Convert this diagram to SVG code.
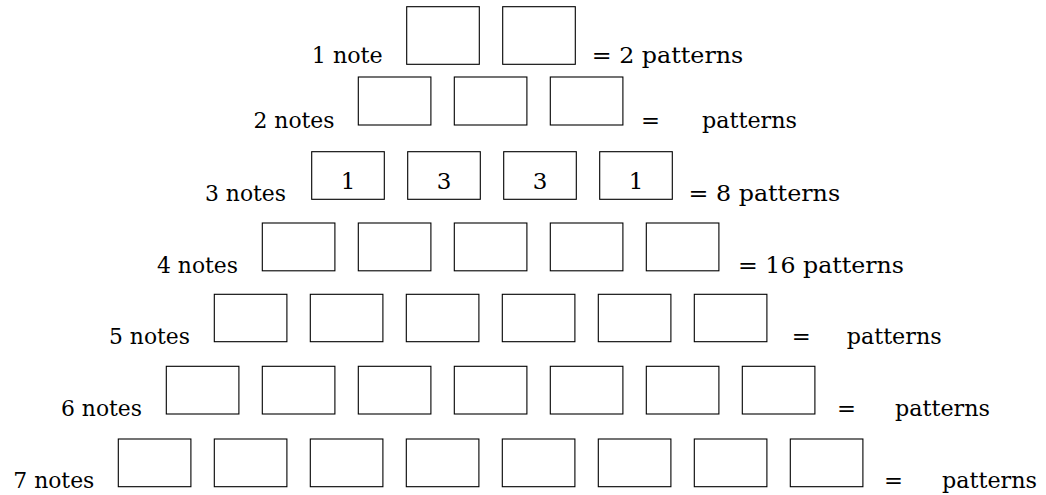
<svg xmlns="http://www.w3.org/2000/svg" width="1046" height="495" viewBox="0 0 1046 495">
<style>
  .box { fill: #ffffff; stroke: #000000; stroke-width: 1.1; }
  .t { font-family: "DejaVu Serif", serif; font-size: 23px; fill: #000000; }
  .lbl { text-anchor: end; }
  .num { text-anchor: middle; }
</style>
<rect x="0" y="0" width="1046" height="495" fill="#ffffff"/>

<g id="row1">
  <text class="t lbl" x="382.7" y="63" textLength="71" lengthAdjust="spacingAndGlyphs">1 note</text>
  <rect class="box" x="406.7" y="6.7" width="72.6" height="57.6"/>
  <rect class="box" x="502.7" y="6.7" width="72.6" height="57.6"/>
  <text class="t" x="591.7" y="63" textLength="151.6" lengthAdjust="spacingAndGlyphs">= 2 patterns</text>
</g>

<g id="row2">
  <text class="t lbl" x="334.5" y="127.5" textLength="81" lengthAdjust="spacingAndGlyphs">2 notes</text>
  <rect class="box" x="358.3" y="77" width="72.6" height="48"/>
  <rect class="box" x="454.3" y="77" width="72.6" height="48"/>
  <rect class="box" x="550.3" y="77" width="72.6" height="48"/>
  <text class="t" x="641" y="127.5" textLength="19" lengthAdjust="spacingAndGlyphs">=</text>
  <text class="t" x="702" y="127.5" textLength="95" lengthAdjust="spacingAndGlyphs">patterns</text>
</g>

<g id="row3">
  <text class="t lbl" x="286" y="200.5" textLength="81" lengthAdjust="spacingAndGlyphs">3 notes</text>
  <rect class="box" x="311.7" y="151.7" width="72.6" height="47.6"/>
  <rect class="box" x="407.7" y="151.7" width="72.6" height="47.6"/>
  <rect class="box" x="503.7" y="151.7" width="72.6" height="47.6"/>
  <rect class="box" x="599.7" y="151.7" width="72.6" height="47.6"/>
  <text class="t num" x="348" y="188.5">1</text>
  <text class="t num" x="444" y="188.5">3</text>
  <text class="t num" x="540" y="188.5">3</text>
  <text class="t num" x="636" y="188.5">1</text>
  <text class="t" x="688.5" y="200.5" textLength="151.6" lengthAdjust="spacingAndGlyphs">= 8 patterns</text>
</g>

<g id="row4">
  <text class="t lbl" x="238" y="272.5" textLength="81" lengthAdjust="spacingAndGlyphs">4 notes</text>
  <rect class="box" x="262.3" y="223" width="72.6" height="47.8"/>
  <rect class="box" x="358.3" y="223" width="72.6" height="47.8"/>
  <rect class="box" x="454.3" y="223" width="72.6" height="47.8"/>
  <rect class="box" x="550.3" y="223" width="72.6" height="47.8"/>
  <rect class="box" x="646.3" y="223" width="72.6" height="47.8"/>
  <text class="t" x="738" y="272.5" textLength="166" lengthAdjust="spacingAndGlyphs">= 16 patterns</text>
</g>

<g id="row5">
  <text class="t lbl" x="190" y="343.5" textLength="81" lengthAdjust="spacingAndGlyphs">5 notes</text>
  <rect class="box" x="214.3" y="294.3" width="72.6" height="47.4"/>
  <rect class="box" x="310.3" y="294.3" width="72.6" height="47.4"/>
  <rect class="box" x="406.3" y="294.3" width="72.6" height="47.4"/>
  <rect class="box" x="502.3" y="294.3" width="72.6" height="47.4"/>
  <rect class="box" x="598.3" y="294.3" width="72.6" height="47.4"/>
  <rect class="box" x="694.3" y="294.3" width="72.6" height="47.4"/>
  <text class="t" x="791.7" y="343.5" textLength="19" lengthAdjust="spacingAndGlyphs">=</text>
  <text class="t" x="846.7" y="343.5" textLength="95" lengthAdjust="spacingAndGlyphs">patterns</text>
</g>

<g id="row6">
  <text class="t lbl" x="142" y="415.5" textLength="81" lengthAdjust="spacingAndGlyphs">6 notes</text>
  <rect class="box" x="166.3" y="366.3" width="72.6" height="47.7"/>
  <rect class="box" x="262.3" y="366.3" width="72.6" height="47.7"/>
  <rect class="box" x="358.3" y="366.3" width="72.6" height="47.7"/>
  <rect class="box" x="454.3" y="366.3" width="72.6" height="47.7"/>
  <rect class="box" x="550.3" y="366.3" width="72.6" height="47.7"/>
  <rect class="box" x="646.3" y="366.3" width="72.6" height="47.7"/>
  <rect class="box" x="742.3" y="366.3" width="72.6" height="47.7"/>
  <text class="t" x="837" y="415.5" textLength="19" lengthAdjust="spacingAndGlyphs">=</text>
  <text class="t" x="895" y="415.5" textLength="95" lengthAdjust="spacingAndGlyphs">patterns</text>
</g>

<g id="row7">
  <text class="t lbl" x="94.3" y="488" textLength="81" lengthAdjust="spacingAndGlyphs">7 notes</text>
  <rect class="box" x="118.3" y="439" width="72.6" height="47.7"/>
  <rect class="box" x="214.3" y="439" width="72.6" height="47.7"/>
  <rect class="box" x="310.3" y="439" width="72.6" height="47.7"/>
  <rect class="box" x="406.3" y="439" width="72.6" height="47.7"/>
  <rect class="box" x="502.3" y="439" width="72.6" height="47.7"/>
  <rect class="box" x="598.3" y="439" width="72.6" height="47.7"/>
  <rect class="box" x="694.3" y="439" width="72.6" height="47.7"/>
  <rect class="box" x="790.3" y="439" width="72.6" height="47.7"/>
  <text class="t" x="884" y="488" textLength="19" lengthAdjust="spacingAndGlyphs">=</text>
  <text class="t" x="942" y="488" textLength="95" lengthAdjust="spacingAndGlyphs">patterns</text>
</g>
</svg>
